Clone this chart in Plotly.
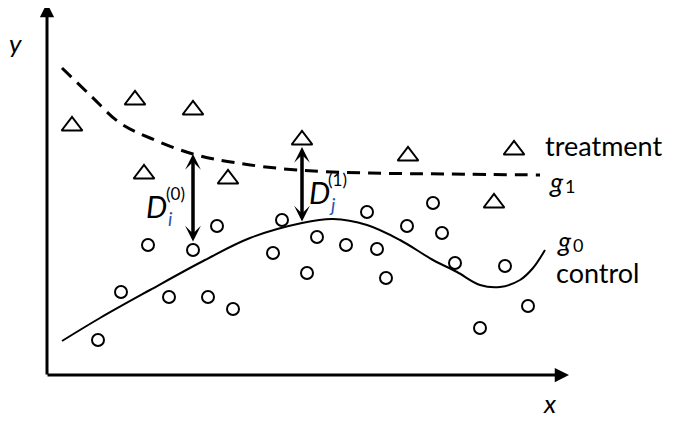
import plotly.graph_objects as go

# schematic drawn in pixel space: x to the right, y downwards
treat_x = [72, 135, 193, 144, 228, 302, 408, 514, 494]
treat_y = [126, 100, 110, 174, 179, 140, 156, 150, 203]

ctrl_x = [98, 121, 169, 208, 233, 148, 193, 217, 273, 282, 307, 317, 346,
          367, 377, 386, 407, 433, 442, 455, 480, 505, 528]
ctrl_y = [340, 292, 297, 297, 309, 245, 250, 226, 253, 220, 273, 237, 245,
          212, 249, 278, 226, 203, 233, 263, 328, 266, 306]

# fitted curves
g1_x = [62, 90, 120, 150, 193, 237, 297, 370, 450, 540]
g1_y = [68, 95, 123, 138, 154, 163, 170, 173, 174, 175]

g0_x = [62, 100, 150, 205, 250, 302, 333, 367, 400, 433, 457, 480, 500, 520, 533, 545]
g0_y = [341, 318, 290, 260, 238, 223, 219, 225, 240, 260, 272, 285, 287, 280, 268, 250]

# distance arrows: (x, top, bottom)
d_arrows = [(193, 154, 243), (302, 147, 223)]

FONT = "Lato"
OFF = 8  # page body margin
IDX_COLOR = "#2a55a8"

fig = go.Figure()

fig.add_trace(go.Scatter(x=g1_x, y=g1_y, mode="lines", line_shape="spline",
                         line=dict(color="black", width=3, dash="13px,8px")))
fig.add_trace(go.Scatter(x=g0_x, y=g0_y, mode="lines", line_shape="spline",
                         line=dict(color="black", width=2)))
fig.add_trace(go.Scatter(x=treat_x, y=treat_y, mode="markers",
                         marker=dict(symbol="triangle-up-open", size=18,
                                     color="black", line=dict(width=2))))
fig.add_trace(go.Scatter(x=ctrl_x, y=ctrl_y, mode="markers",
                         marker=dict(symbol="circle-open", size=12,
                                     color="black", line=dict(width=2))))

# axes with arrowheads
ann = []
ann.append(dict(x=47, y=3, ax=47, ay=376, xref="x", yref="y", axref="x", ayref="y",
                text="", showarrow=True, arrowhead=2, arrowsize=0.95,
                arrowwidth=3, arrowcolor="black", standoff=0))
ann.append(dict(x=569, y=375, ax=46, ay=375, xref="x", yref="y", axref="x", ayref="y",
                text="", showarrow=True, arrowhead=2, arrowsize=0.95,
                arrowwidth=3, arrowcolor="black", standoff=0))

for xa, top, bot in d_arrows:
    ann.append(dict(x=xa, y=top, ax=xa, ay=bot, xref="x", yref="y", axref="x", ayref="y",
                    text="", showarrow=True, arrowside="end+start",
                    arrowhead=3, startarrowhead=3, arrowsize=0.75, startarrowsize=0.75,
                    arrowwidth=3.5, arrowcolor="black", standoff=0, startstandoff=0))

def label(x, y, txt, size, anchor="left", color="black"):
    return dict(x=x, y=y, xref="x", yref="y", text=txt, showarrow=False,
                xanchor=anchor, yanchor="middle",
                font=dict(family=FONT, size=size, color=color))

ann += [
    label(15, 43, "<i>y</i>", 26, "center"),
    label(550, 403, "<i>x</i>", 26, "center"),
    label(543, 145, "treatment", 27),
    label(554, 272, "control", 27),
    label(547, 181, "<i>g</i>", 27),
    label(563, 186, "1", 18),
    label(555, 240, "<i>g</i>", 27),
    label(571, 245, "0", 18),
    # D_i^(0)
    label(144, 206, "<i>D</i>", 30),
    label(164, 193, "(0)", 17),
    label(166, 218, "<i>i</i>", 19, color=IDX_COLOR),
    # D_j^(1)
    label(307, 192, "<i>D</i>", 30),
    label(326, 179, "(1)", 17),
    label(327, 204, "<i>j</i>", 19, color=IDX_COLOR),
]

fig.update_layout(
    width=677, height=424,
    margin=dict(l=0, r=0, t=0, b=0),
    paper_bgcolor="white", plot_bgcolor="white",
    showlegend=False,
    xaxis=dict(range=[OFF, 677 + OFF], visible=False, fixedrange=True),
    yaxis=dict(range=[424 + OFF, OFF], visible=False, fixedrange=True),
    annotations=ann,
)

fig.write_html("out.html")
